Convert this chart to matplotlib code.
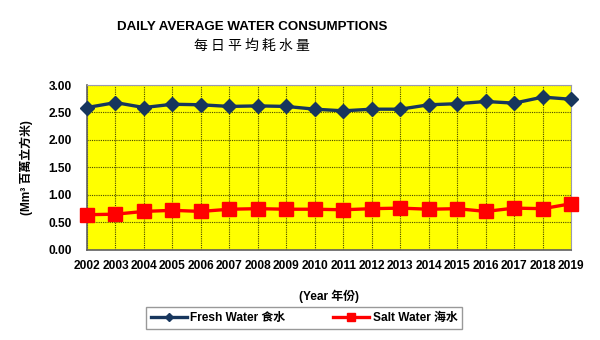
import matplotlib
matplotlib.use("Agg")
import matplotlib.pyplot as plt

plt.rcParams['font.family'] = ['Liberation Sans', 'Noto Sans CJK TC']

years = [2002, 2003, 2004, 2005, 2006, 2007, 2008, 2009, 2010,
         2011, 2012, 2013, 2014, 2015, 2016, 2017, 2018, 2019]
fresh = [2.59, 2.68, 2.59, 2.65, 2.64, 2.61, 2.62, 2.61, 2.56,
         2.53, 2.56, 2.56, 2.64, 2.66, 2.70, 2.67, 2.78, 2.74]
salt = [0.64, 0.65, 0.70, 0.72, 0.70, 0.74, 0.75, 0.74, 0.74,
        0.73, 0.75, 0.76, 0.74, 0.75, 0.70, 0.76, 0.75, 0.84]
yticks = [0.0, 0.5, 1.0, 1.5, 2.0, 2.5, 3.0]

fig = plt.figure(figsize=(6, 3.4), dpi=100)
ax = fig.add_axes([0.145, 0.265, 0.807, 0.485])
ax.set_facecolor('#FFFF00')

ax.plot(years, fresh, color='#17365D', lw=2.4, marker='D', ms=7.5,
        label='Fresh Water 食水', zorder=3, clip_on=False)
ax.plot(years, salt, color='#FF0000', lw=2.4, marker='s', ms=9.5,
        label='Salt Water 海水', zorder=3, clip_on=False)

ax.set_xlim(years[0], years[-1])
ax.set_ylim(0, 3.0)
ax.set_xticks(years)
ax.set_xticklabels([str(y) for y in years], fontsize=8.6, fontweight='bold')
ax.set_yticks(yticks)
ax.set_yticklabels([f'{v:.2f}' for v in yticks], fontsize=8.6, fontweight='bold')
ax.tick_params(axis='x', length=0, pad=7)
ax.tick_params(axis='y', length=0, pad=11)

ax.grid(True, color='#282800', lw=0.8, ls=(0, (1, 1)), alpha=0.85)
ax.set_axisbelow(True)
for s in ['top', 'right']:
    ax.spines[s].set_color('#9A9AB0')
for s in ['left', 'bottom']:
    ax.spines[s].set_color('#606060')
    ax.spines[s].set_linewidth(1.2)

ax.set_ylabel('(Mm³ 百萬立方米)', fontsize=8.6, fontweight='bold', labelpad=11)
ax.set_xlabel('(Year 年份)', fontsize=8.6, fontweight='bold', labelpad=13)

fig.text(0.42, 0.92, 'DAILY AVERAGE WATER CONSUMPTIONS', ha='center', va='center',
         fontsize=9.6, fontweight='bold')
fig.text(0.42, 0.865, '每 日 平 均 耗 水 量', ha='center', va='center',
         fontsize=10, family=['Noto Sans CJK TC'])

leg = fig.legend(loc='center', bbox_to_anchor=(0.507, 0.065), ncol=2,
                 frameon=True, fancybox=False, edgecolor='#808080',
                 prop={'weight': 'bold', 'size': 8.6}, handlelength=3,
                 markerscale=0.6, columnspacing=4, borderpad=0.4,
                 handletextpad=0.3)
leg.get_frame().set_linewidth(1.0)

fig.savefig('out.png', dpi=100)
